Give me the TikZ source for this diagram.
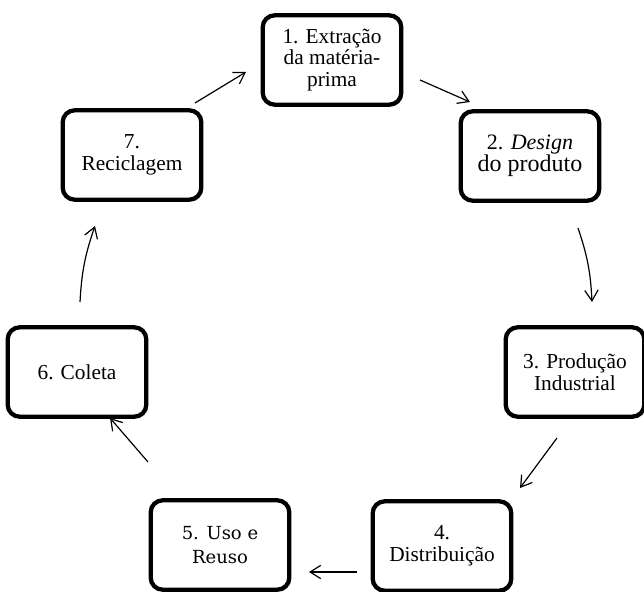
\documentclass[tikz,border=0pt]{standalone}
\usepackage{fontspec}
\setmainfont{Liberation Serif}
\newfontfamily\altserif{DejaVu Serif}
\usetikzlibrary{arrows.meta,shadows}
\tikzset{
  stage/.style={draw=black, line width=3.2pt, rounded corners=9pt, fill=white,
    minimum width=104pt, minimum height=67pt, align=center, inner sep=2pt,
    font=\fontsize{16}{16.3}\selectfont,
    drop shadow={opacity=0.35, shadow xshift=1.2pt, shadow yshift=-1.5pt}},
  flow/.style={line width=0.9pt, -{Straight Barb[length=8pt,width=10pt,line width=0.9pt]}}
}
\begin{document}
\begin{tikzpicture}[x=0.75pt,y=-0.75pt]
\useasboundingbox (0,0) rectangle (644,592);
\node[stage] (n1) at (332,60) {1. Extração\\da matéria-\\prima};
\node[stage, font=\fontsize{16.5}{16.5}\selectfont] (n2) at (530,156) {2. \textit{Design}\\\fontsize{18}{18}\selectfont do produto};
\node[stage] (n3) at (575,372) {3. Produção\\Industrial};
\node[stage] (n4) at (442,546) {4.\\Distribuição};
\node[stage, font=\altserif\fontsize{13.5}{18.5}\selectfont] (n5) at (220,545) {5. Uso e\\Reuso};
\node[stage] (n6) at (77,372) {6. Coleta};
\node[stage] (n7) at (132,155) {7.\\Reciclagem};
\coordinate (a1s) at (420,80);  \coordinate (a1e) at (470,102);
\coordinate (a2s) at (578,228); \coordinate (a2e) at (592,302);
\coordinate (a3s) at (557,438); \coordinate (a3e) at (520,488);
\coordinate (a4s) at (357,572); \coordinate (a4e) at (309,572);
\coordinate (a5s) at (148,462); \coordinate (a5e) at (110,418);
\coordinate (a6s) at (80,302);  \coordinate (a6e) at (95,226);
\coordinate (a7s) at (195,103); \coordinate (a7e) at (246,72);
\draw[flow] (a1s) -- (a1e);
\draw[flow] (a2s) to[bend left=8] (a2e);
\draw[flow] (a3s) -- (a3e);
\draw[flow] (a4s) -- (a4e);
\draw[flow] (a5s) -- (a5e);
\draw[flow] (a6s) to[bend left=8] (a6e);
\draw[flow] (a7s) -- (a7e);
\end{tikzpicture}
\end{document}
